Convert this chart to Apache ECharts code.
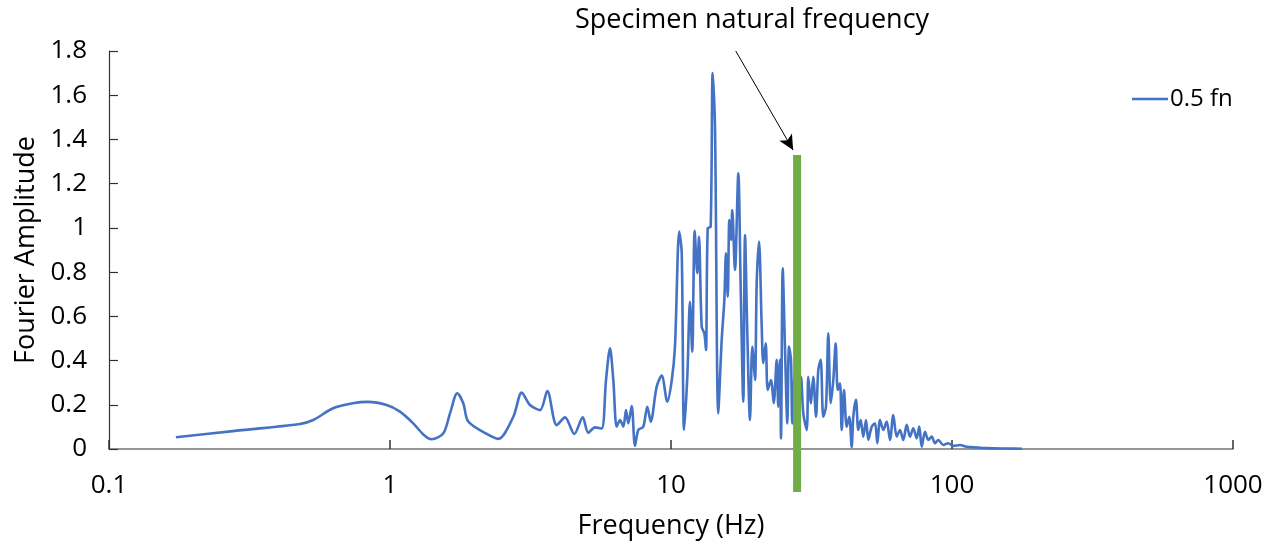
<!DOCTYPE html>
<html>
<head>
<meta charset="utf-8">
<script src="https://cdn.jsdelivr.net/npm/echarts@6/dist/echarts.min.js"></script>
<style>html,body{margin:0;padding:0;background:#fff}#c{width:1273px;height:548px}</style>
</head>
<body>
<div id="c"></div>
<script>
const freq = [0.173,0.276,0.478,0.533,0.627,0.738,0.835,0.973,1.085,1.21,1.314,1.407,1.548,1.635,1.736,1.823,1.899,2.209,2.429,2.747,2.943,3.149,3.419,3.629,3.92,4.196,4.528,4.851,5.078,5.364,5.667,5.871,6.066,6.233,6.409,6.585,6.766,6.917,7.047,7.246,7.445,7.649,7.968,8.234,8.469,8.893,9.266,9.701,10.06,10.33,10.70,10.92,11.13,11.43,11.68,11.90,12.14,12.40,12.58,12.86,13.14,13.32,13.51,13.84,14.07,14.34,14.73,15.15,15.48,15.69,15.92,16.13,16.35,16.52,16.89,17.36,17.70,18.08,18.34,18.69,19.10,19.47,19.90,20.18,20.57,21.03,21.30,21.73,22.09,22.69,23.20,23.78,24.09,24.43,24.63,24.98,25.46,25.94,26.30,26.73,27.02,27.62,28.31,29.01,29.57,30.41,30.81,31.42,32.08,32.81,33.43,34.10,34.83,35.61,36.29,37.01,37.81,38.56,39.20,39.94,40.50,41.27,42.19,43.10,43.96,44.54,45.53,46.40,47.32,48.34,49.43,50.37,51.79,53.21,54.23,55.44,56.95,58.56,60.17,61.81,63.56,65.29,67.09,68.98,70.87,72.82,74.87,76.48,78.01,80.15,82.35,84.67,87.0,89.4,93.1,97.0,101.1,106.8,112.8,119.1,132.9,156.6,177.5];
const amplitude = [0.053,0.081,0.113,0.131,0.184,0.207,0.213,0.199,0.169,0.116,0.066,0.044,0.071,0.161,0.252,0.207,0.124,0.068,0.046,0.146,0.255,0.199,0.176,0.262,0.108,0.143,0.068,0.143,0.074,0.098,0.093,0.312,0.455,0.312,0.101,0.131,0.101,0.176,0.116,0.194,0.014,0.086,0.101,0.191,0.124,0.282,0.332,0.214,0.31,0.463,0.983,0.885,0.086,0.327,0.666,0.440,0.987,0.795,0.960,0.553,0.523,0.448,0.998,1.005,1.70,1.458,0.161,0.493,0.674,0.885,0.689,1.036,0.945,1.081,0.81,1.247,0.734,0.214,0.968,0.523,0.131,0.463,0.312,0.749,0.938,0.553,0.388,0.478,0.267,0.312,0.207,0.403,0.191,0.403,0.048,0.817,0.448,0.116,0.463,0.403,0.116,0.35,0.15,0.327,0.161,0.086,0.327,0.207,0.327,0.146,0.357,0.403,0.146,0.191,0.523,0.207,0.312,0.478,0.267,0.297,0.086,0.267,0.101,0.146,0.01,0.146,0.222,0.086,0.131,0.056,0.131,0.041,0.101,0.116,0.026,0.131,0.086,0.124,0.041,0.154,0.056,0.086,0.041,0.109,0.056,0.094,0.048,0.101,0.01,0.078,0.041,0.056,0.026,0.041,0.018,0.026,0.014,0.018,0.010,0.008,0.004,0.002,0.001];
const naturalFreq = 28.1;
const naturalBarY = [1.33, -0.195];
const arrowFrom = [17.0, 1.8];
const arrowTo = [27.2, 1.352];
const yTicks = {min: 0, max: 1.8, interval: 0.2};
const xRange = {min: 0.1, max: 1000};
const seriesName = '0.5 fn';
const annotationText = 'Specimen natural frequency';

const FONT = '"Open Sans", "Liberation Sans", sans-serif';
const chart = echarts.init(document.getElementById('c'), null, {renderer: 'canvas'});
chart.setOption({
  animation: false,
  backgroundColor: '#ffffff',
  textStyle: {fontFamily: FONT},
  title: {
    text: annotationText,
    left: 570, top: 2,
    textStyle: {fontFamily: FONT, fontSize: 27, fontWeight: 'normal', color: '#000'}
  },
  grid: {left: 109, right: 40, top: 51, bottom: 99, containLabel: false},
  legend: {
    data: [{name: seriesName, icon: 'rect'}],
    left: 1127, top: 82,
    itemWidth: 36, itemHeight: 2.5, itemGap: 5,
    textStyle: {fontFamily: FONT, fontSize: 24, color: '#000', padding: [0,0,0,-3]}
  },
  xAxis: {
    type: 'log', logBase: 10, min: xRange.min, max: xRange.max,
    name: 'Frequency (Hz)', nameLocation: 'middle', nameGap: 64,
    nameTextStyle: {fontFamily: FONT, fontSize: 27, color: '#000'},
    axisLine: {show: true, lineStyle: {color: '#767676', width: 1.5}},
    axisTick: {show: true, inside: true, length: 9, lineStyle: {color: '#333', width: 1.5}},
    minorTick: {show: false},
    splitLine: {show: false},
    axisLabel: {fontFamily: FONT, fontSize: 26, color: '#000', margin: 24, formatter: v => String(+v.toPrecision(6))}
  },
  yAxis: {
    type: 'value', min: yTicks.min, max: yTicks.max, interval: yTicks.interval,
    name: 'Fourier Amplitude', nameLocation: 'middle', nameGap: 66, nameRotate: 90,
    nameTextStyle: {fontFamily: FONT, fontSize: 27, color: '#000'},
    axisLine: {show: true, lineStyle: {color: '#333', width: 1.2}},
    axisTick: {show: true, inside: true, length: 9, lineStyle: {color: '#333', width: 1.2}},
    splitLine: {show: false},
    axisLabel: {fontFamily: FONT, fontSize: 26, color: '#000', margin: 22, formatter: v => String(+v.toFixed(1))}
  },
  series: [
    {
      name: seriesName, type: 'line', symbol: 'none', showSymbol: false,
      smooth: 0.3,
      data: freq.map((f, i) => [f, amplitude[i]]),
      lineStyle: {color: '#4472C4', width: 2.6},
      itemStyle: {color: '#4472C4'},
      z: 2
    },
    {
      name: 'natural', type: 'line', symbol: 'none', clip: false,
      data: naturalBarY.map(y => [naturalFreq, y]),
      lineStyle: {color: '#70AD47', width: 8, cap: 'butt'},
      itemStyle: {color: '#70AD47'},
      z: 3,
      silent: true,
      markLine: {
        silent: true,
        symbol: ['none', 'arrow'],
        symbolSize: [11, 15],
        label: {show: false},
        lineStyle: {color: '#000', width: 1, type: 'solid'},
        data: [[{coord: arrowFrom}, {coord: arrowTo}]]
      }
    }
  ]
});
</script>
</body>
</html>
